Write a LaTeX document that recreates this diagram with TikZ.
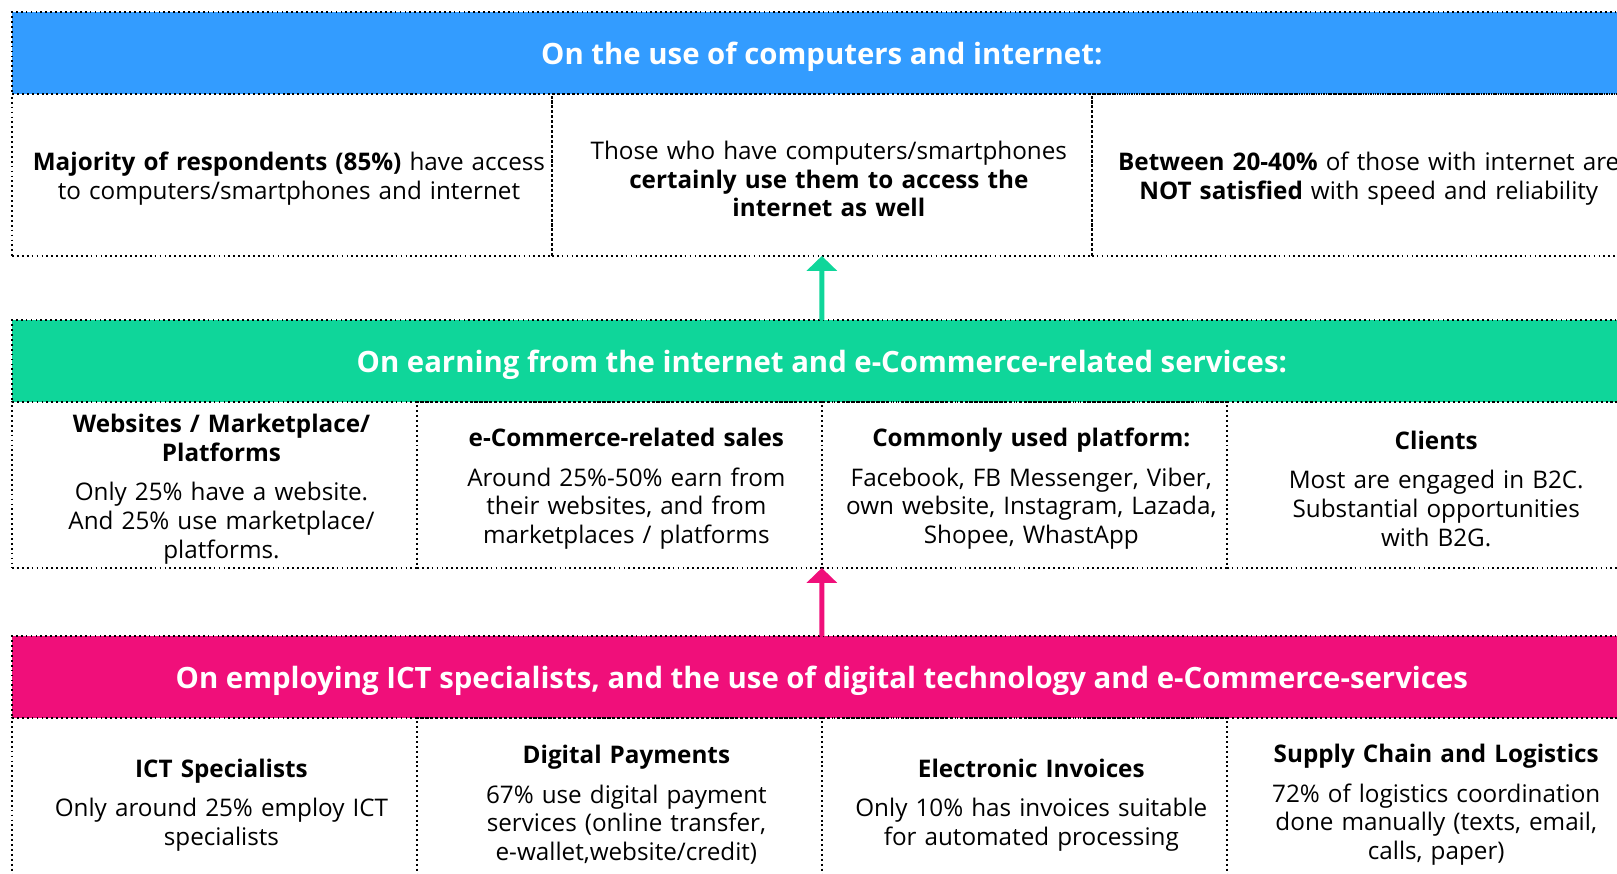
\documentclass[tikz,border=0pt]{standalone}
\usepackage{fontspec}
\setmainfont{Open Sans}
\usetikzlibrary{arrows.meta}
\definecolor{netblue}{HTML}{339CFF}
\definecolor{earngreen}{HTML}{0FD69A}
\definecolor{ictpink}{HTML}{F00F7A}
\tikzset{
	dotline/.style={draw=black, line width=1pt, dash pattern=on 1pt off 1.8pt},
	band/.style={dotline, anchor=north west, outer sep=0pt, inner sep=0pt, minimum width=32.4cm, minimum height=1.64cm, text depth=0pt, text=white, font=\fontsize{16.7}{19}\selectfont\bfseries},
	cell/.style={dotline, anchor=north west, outer sep=0pt, inner sep=0pt, align=center, font=\fontsize{13.8}{16.4}\selectfont, execute at begin node={\advance\leftskip 0.28cm\rule{0pt}{15pt}}},
	usecell/.style={cell, minimum width=10.8cm, minimum height=3.24cm, text width=10.6cm},
	earncell/.style={cell, minimum width=8.1cm, minimum height=3.32cm, text width=7.9cm},
	upar/.style={line width=2.8pt, -{Triangle[width=17pt,length=8.5pt]}}
}
\begin{document}
\begin{tikzpicture}[x=0.02cm, y=-0.02cm]
	\useasboundingbox (0,0) rectangle (1617,873);
	\clip (0,0) rectangle (1617,873);
	\node[band, fill=netblue] (useband) at (12,12) {On the use of computers and internet:};
	\node[usecell] (usecell1) at (useband.south west) {\textbf{Majority of respondents (85\%)} have access\\to computers/smartphones and internet};
	\node[usecell] (usecell2) at (usecell1.north east) {Those who have computers/smartphones\\\textbf{certainly use them to access the}\\\textbf{internet as well}};
	\node[usecell] (usecell3) at (usecell2.north east) {\textbf{Between 20-40\%} of those with internet are\\\textbf{NOT satisfied} with speed and reliability};
	\node[band, fill=earngreen] (earnband) at (12,320) {On earning from the internet and e-Commerce-related services:};
	\node[earncell] (earncell1) at (earnband.south west) {\textbf{Websites / Marketplace/}\\\textbf{Platforms}\\[6pt]Only 25\% have a website.\\And 25\% use marketplace/\\platforms.};
	\node[earncell] (earncell2) at (earncell1.north east) {\textbf{e-Commerce-related sales}\\[6pt]Around 25\%-50\% earn from\\their websites, and from\\marketplaces / platforms};
	\node[earncell] (earncell3) at (earncell2.north east) {\textbf{Commonly used platform:}\\[6pt]Facebook, FB Messenger, Viber,\\own website, Instagram, Lazada,\\Shopee, WhastApp};
	\node[earncell] (earncell4) at (earncell3.north east) {\textbf{Clients}\\[6pt]Most are engaged in B2C.\\Substantial opportunities\\with B2G.};
	\node[band, fill=ictpink] (ictband) at (12,636) {On employing ICT specialists, and the use of digital technology and e-Commerce-services};
	\node[earncell] (ictcell1) at (ictband.south west) {\textbf{ICT Specialists}\\[6pt]Only around 25\% employ ICT\\specialists};
	\node[earncell] (ictcell2) at (ictcell1.north east) {\textbf{Digital Payments}\\[6pt]67\% use digital payment\\services (online transfer,\\e-wallet,website/credit)};
	\node[earncell] (ictcell3) at (ictcell2.north east) {\textbf{Electronic Invoices}\\[6pt]Only 10\% has invoices suitable\\for automated processing};
	\node[earncell] (ictcell4) at (ictcell3.north east) {\textbf{Supply Chain and Logistics}\\[6pt]72\% of logistics coordination\\done manually (texts, email,\\calls, paper)};
	\draw[upar, earngreen] (earnband.north) -- (usecell2.south);
	\draw[upar, ictpink] (ictband.north) -- (earncell2.south east);
\end{tikzpicture}
\end{document}
